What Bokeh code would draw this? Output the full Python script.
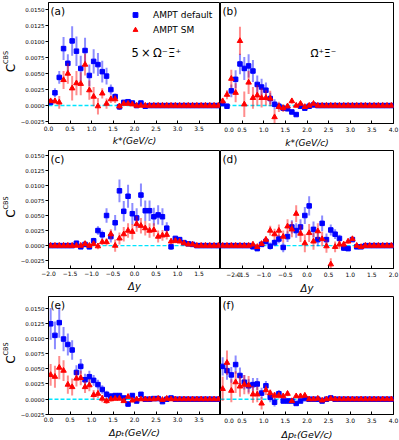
import math
from bokeh.plotting import figure
from bokeh.models import (Range1d, FixedTicker, Span, Label, Legend, LegendItem,
                          ColumnDataSource)
from bokeh.layouts import row, column
from bokeh.embed import file_html
from bokeh.resources import INLINE

# ---------------- data ----------------
kstar_bins = [0.05, 0.15, 0.25, 0.35, 0.45, 0.55, 0.65, 0.75, 0.85, 0.95,
              1.05, 1.15, 1.25, 1.35, 1.45, 1.55, 1.65, 1.75, 1.85, 1.95,
              2.05, 2.15, 2.25, 2.35, 2.45, 2.55, 2.65, 2.75, 2.85, 2.95,
              3.05, 3.15, 3.25, 3.35, 3.45, 3.55, 3.65, 3.75, 3.85, 3.95]
dy_bins = [-1.95, -1.85, -1.75, -1.65, -1.55, -1.45, -1.35, -1.25, -1.15, -1.05,
           -0.95, -0.85, -0.75, -0.65, -0.55, -0.45, -0.35, -0.25, -0.15, -0.05,
           0.05, 0.15, 0.25, 0.35, 0.45, 0.55, 0.65, 0.75, 0.85, 0.95,
           1.05, 1.15, 1.25, 1.35, 1.45, 1.55, 1.65, 1.75, 1.85, 1.95]
dpt_bins = [0.05, 0.15, 0.25, 0.35, 0.45, 0.55, 0.65, 0.75, 0.85, 0.95,
            1.05, 1.15, 1.25, 1.35, 1.45, 1.55, 1.65, 1.75, 1.85, 1.95,
            2.05, 2.15, 2.25, 2.35, 2.45, 2.55, 2.65, 2.75, 2.85, 2.95,
            3.05, 3.15, 3.25, 3.35, 3.45, 3.55, 3.65, 3.75, 3.85, 3.95]

# (a) 5 x Omega- Xibar+ vs k*
a_default = [0.0005, 0.0020, 0.0044, 0.0089, 0.0066, 0.0101, 0.0085, 0.0058, 0.0086, 0.0047,
             0.0069, 0.0064, 0.0053, 0.0046, 0.0025, 0.0014, -0.0002, 0.0005, 0.0006, 0.0004,
             0.0000, 0.0004, -0.0001, 0.0, 0.0, 0.0, 0.0, 0.0, 0.0, 0.0,
             0.0, 0.0, 0.0, 0.0, 0.0, 0.0, 0.0, 0.0, 0.0, 0.0]
a_default_err = [0.0003, 0.0007, 0.0010, 0.0018, 0.0014, 0.0023, 0.0023, 0.0020, 0.0020, 0.0017,
                 0.0019, 0.0018, 0.0017, 0.0013, 0.0008, 0.0005, 0.0005, 0.0003, 0.0003, 0.0002,
                 0.0002, 0.0002, 0.0002, 0.0001, 0.0001, 0.0001, 0.0001, 0.0001, 0.0001, 0.0001,
                 0.0001, 0.0001, 0.0001, 0.0001, 0.0001, 0.0001, 0.0001, 0.0001, 0.0001, 0.0001]
a_sm = [0.0007, 0.0007, 0.0005, 0.0040, 0.0050, 0.0027, 0.0035, 0.0034, 0.0064, 0.0024,
        0.0014, -0.0001, 0.0019, 0.0003, 0.0010, 0.0010, -0.0001, 0.0003, 0.0003, 0.0002,
        0.0, 0.0, 0.0, 0.0, 0.0, 0.0, 0.0, 0.0, 0.0, 0.0,
        0.0, 0.0, 0.0, 0.0, 0.0, 0.0, 0.0, 0.0, 0.0, 0.0]
a_sm_err = [0.0003, 0.0004, 0.0010, 0.0014, 0.0016, 0.0019, 0.0019, 0.0018, 0.0017, 0.0015,
            0.0015, 0.0013, 0.0008, 0.0008, 0.0006, 0.0006, 0.0005, 0.0003, 0.0003, 0.0002,
            0.0002, 0.0001, 0.0001, 0.0001, 0.0001, 0.0001, 0.0001, 0.0001, 0.0001, 0.0001,
            0.0001, 0.0001, 0.0001, 0.0001, 0.0001, 0.0001, 0.0001, 0.0001, 0.0001, 0.0001]

# (b) Omegabar+ Xi- vs k*
b_default = [0.0003, -0.0001, 0.0023, 0.0041, 0.0065, 0.0058, 0.0062, 0.0054, 0.0033, 0.0029,
             0.0024, 0.0011, 0.0002, -0.0001, -0.0004, -0.0005, -0.0010, -0.0014, -0.0001, -0.0004,
             -0.0001, 0.0001, 0.0, 0.0, 0.0, 0.0, 0.0, 0.0, 0.0, 0.0,
             0.0, 0.0, 0.0, 0.0, 0.0, 0.0, 0.0, 0.0, 0.0, 0.0]
b_default_err = [0.0003, 0.0004, 0.0010, 0.0014, 0.0016, 0.0018, 0.0018, 0.0017, 0.0014, 0.0013,
                 0.0012, 0.0009, 0.0008, 0.0005, 0.0004, 0.0004, 0.0003, 0.0003, 0.0003, 0.0002,
                 0.0002, 0.0002, 0.0001, 0.0001, 0.0001, 0.0001, 0.0001, 0.0001, 0.0001, 0.0001,
                 0.0001, 0.0001, 0.0001, 0.0001, 0.0001, 0.0001, 0.0001, 0.0001, 0.0001, 0.0001]
b_sm = [0.0007, 0.0017, 0.0042, 0.0020, 0.0101, 0.0002, 0.0036, 0.0012, 0.0016, 0.0012,
        0.0012, 0.0011, -0.0018, -0.0002, -0.0004, -0.0001, 0.0007, 0.0000, 0.0003, -0.0002,
        0.0000, 0.0003, 0.0, 0.0, 0.0, 0.0, 0.0, 0.0, 0.0, 0.0,
        0.0, 0.0, 0.0, 0.0, 0.0, 0.0, 0.0, 0.0, 0.0, 0.0]
b_sm_err = [0.0004, 0.0007, 0.0014, 0.0015, 0.0022, 0.0020, 0.0018, 0.0017, 0.0016, 0.0015,
            0.0012, 0.0012, 0.0012, 0.0008, 0.0006, 0.0004, 0.0004, 0.0003, 0.0003, 0.0002,
            0.0002, 0.0002, 0.0001, 0.0001, 0.0001, 0.0001, 0.0001, 0.0001, 0.0001, 0.0001,
            0.0001, 0.0001, 0.0001, 0.0001, 0.0001, 0.0001, 0.0001, 0.0001, 0.0001, 0.0001]

# (c) vs delta y
c_default = [0.0, 0.0, 0.0, 0.0, 0.0, 0.0, 0.0004, -0.0002, 0.0002, -0.0002,
             0.0008, 0.0025, 0.0018, 0.0050, 0.0015, 0.0038, 0.0091, 0.0057, 0.0082, 0.0053,
             0.0046, 0.0084, 0.0058, 0.0058, 0.0048, 0.0051, 0.0048, 0.0029, -0.0002, 0.0012,
             0.0010, 0.0005, 0.0003, 0.0002, 0.0, 0.0, 0.0, 0.0, 0.0, 0.0]
c_default_err = [0.0001, 0.0001, 0.0001, 0.0001, 0.0001, 0.0001, 0.0002, 0.0003, 0.0003, 0.0004,
                 0.0005, 0.0007, 0.0007, 0.0012, 0.0010, 0.0013, 0.0019, 0.0017, 0.0019, 0.0018,
                 0.0016, 0.0019, 0.0017, 0.0017, 0.0015, 0.0016, 0.0014, 0.0010, 0.0005, 0.0004,
                 0.0003, 0.0002, 0.0002, 0.0002, 0.0001, 0.0001, 0.0001, 0.0001, 0.0001, 0.0001]
c_sm = [0.0, 0.0, 0.0, 0.0, 0.0, 0.0, 0.0, 0.0, 0.0003, 0.0,
        0.0003, -0.0001, 0.0006, 0.0006, 0.0019, 0.0000, 0.0012, 0.0019, 0.0025, 0.0023,
        0.0036, 0.0033, 0.0029, 0.0025, 0.0026, 0.0015, 0.0017, 0.0018, 0.0007, 0.0008,
        0.0007, 0.0004, 0.0002, 0.0002, 0.0, 0.0, 0.0, 0.0, 0.0, 0.0]
c_sm_err = [0.0001, 0.0001, 0.0001, 0.0001, 0.0001, 0.0001, 0.0002, 0.0003, 0.0003, 0.0003,
            0.0004, 0.0005, 0.0005, 0.0006, 0.0008, 0.0010, 0.0010, 0.0012, 0.0012, 0.0013,
            0.0013, 0.0013, 0.0012, 0.0012, 0.0011, 0.0010, 0.0009, 0.0008, 0.0005, 0.0004,
            0.0003, 0.0002, 0.0002, 0.0002, 0.0001, 0.0001, 0.0001, 0.0001, 0.0001, 0.0001]

# (d) vs delta y
d_default = [0.0, 0.0, 0.0, 0.0, 0.0, 0.0, 0.0, -0.0002, -0.0005, 0.0002,
             0.0007, -0.0001, 0.0005, 0.0011, -0.0003, 0.0015, 0.0031, 0.0025, 0.0031, 0.0050,
             0.0066, 0.0027, 0.0010, 0.0037, 0.0010, 0.0026, 0.0019, 0.0012, -0.0004, -0.0005,
             0.0010, -0.0002, -0.0002, 0.0, 0.0, 0.0, 0.0, 0.0, 0.0, 0.0]
d_default_err = [0.0001, 0.0001, 0.0001, 0.0001, 0.0001, 0.0001, 0.0002, 0.0003, 0.0003, 0.0004,
                 0.0005, 0.0006, 0.0006, 0.0007, 0.0008, 0.0009, 0.0011, 0.0012, 0.0013, 0.0014,
                 0.0016, 0.0013, 0.0011, 0.0013, 0.0010, 0.0009, 0.0008, 0.0006, 0.0005, 0.0004,
                 0.0003, 0.0002, 0.0002, 0.0002, 0.0001, 0.0001, 0.0001, 0.0001, 0.0001, 0.0001]
d_sm = [0.0, 0.0, 0.0, 0.0, 0.0, 0.0, 0.0, 0.0002, -0.0002, 0.0003,
        0.0010, 0.0025, 0.0019, 0.0025, 0.0015, 0.0032, 0.0027, 0.0053, 0.0020, 0.0004,
        0.0021, 0.0007, 0.0024, 0.0011, -0.0001, -0.0031, -0.0002, 0.0002, 0.0002, 0.0007,
        0.0011, 0.0, -0.0002, 0.0, 0.0, 0.0, 0.0, 0.0, 0.0, 0.0]
d_sm_err = [0.0001, 0.0001, 0.0001, 0.0001, 0.0001, 0.0001, 0.0002, 0.0003, 0.0003, 0.0004,
            0.0005, 0.0008, 0.0009, 0.0010, 0.0010, 0.0012, 0.0013, 0.0014, 0.0014, 0.0015,
            0.0015, 0.0014, 0.0013, 0.0012, 0.0011, 0.0010, 0.0009, 0.0007, 0.0005, 0.0004,
            0.0003, 0.0002, 0.0002, 0.0002, 0.0001, 0.0001, 0.0001, 0.0001, 0.0001, 0.0001]

# (e) vs delta pT
e_default = [0.0124, 0.0105, 0.0126, 0.0099, 0.0090, 0.0081, 0.0044, 0.0054, 0.0032, 0.0037,
             0.0031, 0.0024, 0.0016, 0.0008, 0.0005, 0.0006, 0.0006, 0.0002, -0.0008, 0.0006,
             -0.0003, 0.0008, 0.0000, 0.0000, 0.0001, 0.0001, -0.0004, 0.0000, 0.0002, 0.0,
             0.0, 0.0, 0.0, 0.0, 0.0, 0.0, 0.0, 0.0, 0.0, 0.0]
e_default_err = [0.0026, 0.0023, 0.0025, 0.0020, 0.0018, 0.0016, 0.0012, 0.0012, 0.0010, 0.0010,
                 0.0009, 0.0008, 0.0007, 0.0006, 0.0005, 0.0004, 0.0004, 0.0003, 0.0004, 0.0003,
                 0.0003, 0.0002, 0.0002, 0.0002, 0.0002, 0.0002, 0.0002, 0.0002, 0.0002, 0.0001,
                 0.0001, 0.0001, 0.0001, 0.0001, 0.0001, 0.0001, 0.0001, 0.0001, 0.0001, 0.0001]
e_sm = [0.0040, 0.0037, 0.0052, 0.0047, 0.0024, 0.0020, 0.0034, 0.0035, 0.0020, 0.0023,
        0.0007, 0.0009, 0.0001, -0.0003, 0.0000, 0.0001, 0.0001, -0.0003, 0.0004, -0.0002,
        0.0, 0.0, 0.0, 0.0, 0.0, 0.0001, -0.0001, 0.0001, 0.0, 0.0,
        0.0, 0.0, 0.0, 0.0, 0.0, 0.0, 0.0, 0.0, 0.0, 0.0]
e_sm_err = [0.0018, 0.0018, 0.0019, 0.0017, 0.0015, 0.0014, 0.0013, 0.0012, 0.0010, 0.0010,
            0.0008, 0.0007, 0.0006, 0.0005, 0.0004, 0.0004, 0.0003, 0.0003, 0.0003, 0.0003,
            0.0002, 0.0002, 0.0002, 0.0002, 0.0002, 0.0002, 0.0002, 0.0002, 0.0001, 0.0001,
            0.0001, 0.0001, 0.0001, 0.0001, 0.0001, 0.0001, 0.0001, 0.0001, 0.0001, 0.0001]

# (f) vs delta pT
f_default = [0.0054, 0.0047, 0.0040, 0.0057, 0.0039, 0.0028, 0.0022, 0.0024, 0.0025, 0.0010,
             0.0022, 0.0003, -0.0005, 0.0009, -0.0003, -0.0003, -0.0003, -0.0007, -0.0003, 0.0001,
             0.0, 0.0, 0.0, -0.0003, 0.0, 0.0002, 0.0, 0.0, 0.0, 0.0,
             0.0, 0.0, 0.0, 0.0, 0.0, 0.0, 0.0, 0.0, 0.0, 0.0]
f_default_err = [0.0015, 0.0015, 0.0013, 0.0015, 0.0013, 0.0012, 0.0011, 0.0011, 0.0010, 0.0009,
                 0.0008, 0.0008, 0.0007, 0.0006, 0.0004, 0.0004, 0.0003, 0.0003, 0.0003, 0.0002,
                 0.0002, 0.0002, 0.0002, 0.0002, 0.0002, 0.0002, 0.0001, 0.0001, 0.0001, 0.0001,
                 0.0001, 0.0001, 0.0001, 0.0001, 0.0001, 0.0001, 0.0001, 0.0001, 0.0001, 0.0001]
f_sm = [0.0017, 0.0060, 0.0014, 0.0028, 0.0021, 0.0024, 0.0023, 0.0008, 0.0008, -0.0007,
        0.0015, 0.0010, 0.0006, 0.0006, 0.0005, 0.0009, -0.0003, 0.0005, 0.0005, 0.0006,
        0.0, 0.0, 0.0001, -0.0002, 0.0, 0.0001, 0.0, 0.0, 0.0, 0.0,
        0.0, 0.0, 0.0, 0.0, 0.0, 0.0, 0.0, 0.0, 0.0, 0.0]
f_sm_err = [0.0020, 0.0020, 0.0019, 0.0018, 0.0017, 0.0016, 0.0015, 0.0014, 0.0013, 0.0010,
            0.0008, 0.0006, 0.0006, 0.0005, 0.0004, 0.0004, 0.0003, 0.0003, 0.0003, 0.0003,
            0.0002, 0.0002, 0.0002, 0.0002, 0.0002, 0.0002, 0.0001, 0.0001, 0.0001, 0.0001,
            0.0001, 0.0001, 0.0001, 0.0001, 0.0001, 0.0001, 0.0001, 0.0001, 0.0001, 0.0001]

# ticks and labels
y_ticks = [-0.0025, 0.0, 0.0025, 0.005, 0.0075, 0.01, 0.0125, 0.015]
y_tick_labels = ["\u22120.0025", "0.0000", "0.0025", "0.0050", "0.0075", "0.0100", "0.0125", "0.0150"]
k_ticks = [0.0, 0.5, 1.0, 1.5, 2.0, 2.5, 3.0, 3.5, 4.0]
k_tick_labels = ["0.0", "0.5", "1.0", "1.5", "2.0", "2.5", "3.0", "3.5", "4.0"]
dy_ticks = [-2.0, -1.5, -1.0, -0.5, 0.0, 0.5, 1.0, 1.5, 2.0]
dy_tick_labels = ["\u22122.0", "\u22121.5", "\u22121.0", "\u22120.5", "0.0", "0.5", "1.0", "1.5", "2.0"]

series_labels = ["AMPT default", "AMPT SM"]
panel_tags = ["(a)", "(b)", "(c)", "(d)", "(e)", "(f)"]

# ---------------- styling ----------------
FONT = "DejaVu Sans"
BLUE = "#0000ff"
RED = "#ff0000"
NBSP = "\u00a0"
LW = 17          # width of the y-label strip


def make_panel(xs, yb, eb, yr, er, xrange_, yrange_, ticks, tick_labels, xlabel,
               xlabel_size, is_left, top_border, fh, bottom_border, tag, pad):
    if is_left:
        fw, mbl, mbr = 172, 28, 0
    else:
        fw, mbl, mbr = 173, 0, 6
    p = figure(frame_width=fw, frame_height=fh,
               x_range=Range1d(*xrange_), y_range=Range1d(*yrange_),
               output_backend="svg", toolbar_location=None,
               min_border_left=mbl, min_border_right=mbr,
               min_border_top=top_border, min_border_bottom=bottom_border,
               background_fill_color="white", border_fill_color="white",
               outline_line_color="black", outline_line_width=1)
    p.grid.visible = False

    xa = p.xaxis[0]
    if is_left:
        xt = ticks[:-1]
        xl = tick_labels[:-1]
    else:
        xt = ticks
        # first label sits on the shared edge: pad it so it is not clipped
        xl = [NBSP * pad + tick_labels[0]] + tick_labels[1:]
    xa.ticker = FixedTicker(ticks=xt)
    xa.major_label_overrides = dict(zip(xt, xl))
    xa.major_tick_in = 3
    xa.major_tick_out = 0
    xa.minor_tick_line_color = None
    xa.major_label_text_font = FONT
    xa.major_label_text_font_size = "6px"
    xa.major_label_text_color = "black"
    xa.major_label_standoff = 2
    xa.axis_line_color = "black"
    xa.major_tick_line_color = "black"
    xa.axis_label = xlabel
    xa.axis_label_text_font = FONT
    xa.axis_label_text_font_size = xlabel_size
    xa.axis_label_text_font_style = "italic"
    xa.axis_label_text_color = "black"
    xa.axis_label_standoff = 2

    ya = p.yaxis[0]
    if is_left:
        ya.ticker = FixedTicker(ticks=y_ticks)
        ya.major_label_overrides = dict(zip(y_ticks, y_tick_labels))
        ya.major_tick_in = 0
        ya.major_tick_out = 3
        ya.minor_tick_line_color = None
        ya.major_label_text_font = FONT
        ya.major_label_text_font_size = "5.5px"
        ya.major_label_text_color = "black"
        ya.major_label_standoff = 1
        ya.axis_line_color = "black"
        ya.major_tick_line_color = "black"
    else:
        ya.visible = False

    p.add_layout(Span(location=0, dimension="width", line_color="#00e5ff",
                      line_dash="4 2", line_width=1.4, level="underlay"))

    src_b = ColumnDataSource(dict(x=xs, y=yb, lo=[v - e for v, e in zip(yb, eb)],
                                  hi=[v + e for v, e in zip(yb, eb)]))
    src_r = ColumnDataSource(dict(x=xs, y=yr, lo=[v - e for v, e in zip(yr, er)],
                                  hi=[v + e for v, e in zip(yr, er)]))
    p.segment("x", "lo", "x", "hi", source=src_b, line_color=BLUE, line_alpha=0.45,
              line_width=2)
    sb = p.scatter("x", "y", source=src_b, marker="square", size=4.5, color=BLUE)
    p.segment("x", "lo", "x", "hi", source=src_r, line_color=RED, line_alpha=0.45,
              line_width=2)
    sr = p.scatter("x", "y", source=src_r, marker="triangle", size=5.5, color=RED)

    p.add_layout(Label(x=2, y=fh - 2, x_units="screen", y_units="screen", text=tag,
                       text_align="left", text_baseline="top", text_font=FONT,
                       text_font_size="10.5px", text_color="black"))
    return p, sb, sr


def make_ylabel_strip(top_border, fh, bottom_border):
    h = top_border + fh + bottom_border
    f = figure(width=LW, height=h, min_border=0, x_axis_location=None,
               y_axis_location=None, toolbar_location=None, output_backend="svg",
               outline_line_color=None, x_range=Range1d(0, 1), y_range=Range1d(0, 1),
               background_fill_color="white", border_fill_color="white")
    f.grid.visible = False
    center = bottom_border + fh / 2.0
    f.add_layout(Label(x=10.5, y=center - 32, x_units="screen", y_units="screen",
                       text="C", angle=math.pi / 2, text_align="center",
                       text_baseline="middle", text_font=FONT,
                       text_font_size="12px", text_color="black"))
    f.add_layout(Label(x=5, y=center - 21.5, x_units="screen", y_units="screen",
                       text="CBS", angle=math.pi / 2, text_align="center",
                       text_baseline="middle", text_font=FONT,
                       text_font_size="6.5px", text_color="black"))
    return f


rows_geom = [(2, 121, 26), (0, 118, 26), (0, 118, 26)]

g = rows_geom[0]
pa, sb_a, sr_a = make_panel(kstar_bins, a_default, a_default_err, a_sm, a_sm_err,
                            (0, 4), (-0.0028, 0.0161), k_ticks, k_tick_labels,
                            "k*(GeV/c)", "9px", True, g[0], g[1], g[2], panel_tags[0], 2)
pb, _, _ = make_panel(kstar_bins, b_default, b_default_err, b_sm, b_sm_err,
                      (0, 4), (-0.0028, 0.0161), k_ticks, k_tick_labels,
                      "k*(GeV/c)", "9px", False, g[0], g[1], g[2], panel_tags[1], 2)
la = make_ylabel_strip(*g)

g = rows_geom[1]
pc, _, _ = make_panel(dy_bins, c_default, c_default_err, c_sm, c_sm_err,
                      (-2, 2), (-0.0038, 0.0158), dy_ticks, dy_tick_labels,
                      "\u0394y", "10px", True, g[0], g[1], g[2], panel_tags[2], 3)
pd, _, _ = make_panel(dy_bins, d_default, d_default_err, d_sm, d_sm_err,
                      (-2, 2), (-0.0038, 0.0158), dy_ticks, dy_tick_labels,
                      "\u0394y", "10px", False, g[0], g[1], g[2], panel_tags[3], 3)
lc = make_ylabel_strip(*g)

g = rows_geom[2]
pe, _, _ = make_panel(dpt_bins, e_default, e_default_err, e_sm, e_sm_err,
                      (0, 4), (-0.00252, 0.0169), k_ticks, k_tick_labels,
                      "\u0394p\u209c(GeV/c)", "9.5px", True, g[0], g[1], g[2], panel_tags[4], 2)
pf, _, _ = make_panel(dpt_bins, f_default, f_default_err, f_sm, f_sm_err,
                      (0, 4), (-0.00252, 0.0169), k_ticks, k_tick_labels,
                      "\u0394p\u209c(GeV/c)", "9.5px", False, g[0], g[1], g[2], panel_tags[5], 2)
le = make_ylabel_strip(*g)

FH_A = rows_geom[0][1]
legend = Legend(items=[LegendItem(label=series_labels[0], renderers=[sb_a]),
                       LegendItem(label=series_labels[1], renderers=[sr_a])],
                location=(81, FH_A - 35), orientation="vertical",
                background_fill_alpha=0, border_line_color=None,
                padding=0, margin=0, spacing=0, glyph_width=12, glyph_height=15,
                label_height=15, label_standoff=12,
                label_text_font=FONT, label_text_font_size="9px",
                label_text_color="black")
pa.add_layout(legend)

pa.add_layout(Label(x=83, y=FH_A - 50, x_units="screen", y_units="screen",
                    text="5\u2009\u00d7\u2009\u03a9\u207b\u039e\u0304\u207a",
                    text_baseline="alphabetic",
                    text_font=FONT, text_font_size="11.5px", text_color="black"))
pb.add_layout(Label(x=90, y=FH_A - 50, x_units="screen", y_units="screen",
                    text="\u03a9\u0304\u207a\u039e\u207b", text_baseline="alphabetic",
                    text_font=FONT, text_font_size="10.5px", text_color="black"))

layout = column(row(la, pa, pb), row(lc, pc, pd), row(le, pe, pf))
open("out.html", "w").write(file_html(layout, INLINE))
